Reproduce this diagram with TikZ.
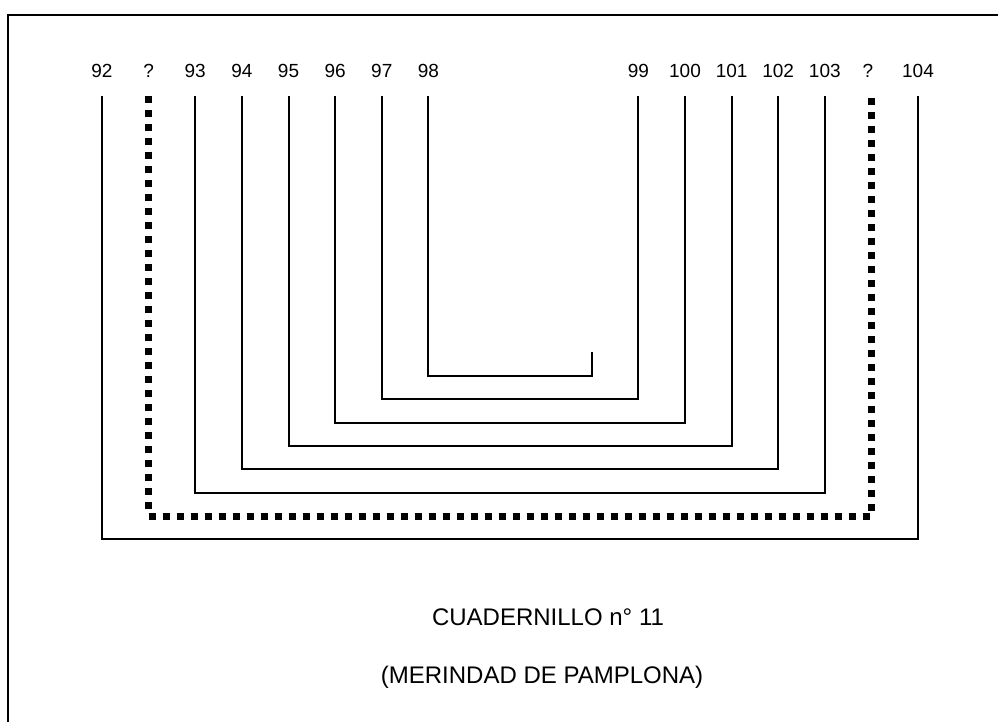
\documentclass[tikz,border=0pt]{standalone}
\usepackage{fontspec}
\setmainfont{Liberation Sans}
\begin{document}
\begin{tikzpicture}[x=1pt,y=-1pt,line width=2pt]
      \tikzstyle{num}=[font=\fontsize{19}{22}\selectfont,anchor=base,inner sep=0pt]
      \tikzstyle{caption}=[font=\fontsize{24}{28}\selectfont,inner sep=0pt]
      \tikzstyle{unknown}=[line width=7pt,dash pattern=on 7pt off 7pt]
      \useasboundingbox (0,0) rectangle (998,722);
      \draw[line width=2.5pt] (998,15) -- (8,15) -- (8,722);
      % folio numbers
      \node[num] (N_92)  at (102,78)   {92};
      \node[num] (N_q1)  at (148.6,78) {?};
      \node[num] (N_93)  at (195.2,78) {93};
      \node[num] (N_94)  at (241.9,78) {94};
      \node[num] (N_95)  at (288.5,78) {95};
      \node[num] (N_96)  at (335.1,78) {96};
      \node[num] (N_97)  at (381.8,78) {97};
      \node[num] (N_98)  at (428.4,78) {98};
      \node[num] (N_99)  at (638.4,78) {99};
      \node[num] (N_100) at (685,78)   {100};
      \node[num] (N_101) at (731.6,78) {101};
      \node[num] (N_102) at (778.2,78) {102};
      \node[num] (N_103) at (824.8,78) {103};
      \node[num] (N_q2)  at (868,78)   {?};
      \node[num] (N_104) at (918,78)   {104};
      % tops of the leaves
      \coordinate (A_92)  at (102,96);
      \coordinate (A_q1)  at (148.6,96);
      \coordinate (A_93)  at (195.2,96);
      \coordinate (A_94)  at (241.9,96);
      \coordinate (A_95)  at (288.5,96);
      \coordinate (A_96)  at (335.1,96);
      \coordinate (A_97)  at (381.8,96);
      \coordinate (A_98)  at (428.4,96);
      \coordinate (A_99)  at (638.4,96);
      \coordinate (A_100) at (685,96);
      \coordinate (A_101) at (731.6,96);
      \coordinate (A_102) at (778.2,96);
      \coordinate (A_103) at (824.8,96);
      \coordinate (A_q2)  at (871.4,96);
      \coordinate (A_104) at (918,96);
      \coordinate (S) at (591.8,352);
      % bifolios
      \draw (A_92) -- ++(0,443) -| (A_104);
      \draw[unknown] (A_q1) -- ++(0,420) -| (A_q2);
      \draw (A_93) -- ++(0,396.6) -| (A_103);
      \draw (A_94) -- ++(0,373.3) -| (A_102);
      \draw (A_95) -- ++(0,350) -| (A_101);
      \draw (A_96) -- ++(0,326.7) -| (A_100);
      \draw (A_97) -- ++(0,303.4) -| (A_99);
      \draw (A_98) -- ++(0,280.1) -| (S);
      \node[caption] (title) at (548,617) {CUADERNILLO n° 11};
      \node[caption] (region) at (542,677) {(MERINDAD DE PAMPLONA)};
\end{tikzpicture}
\end{document}
